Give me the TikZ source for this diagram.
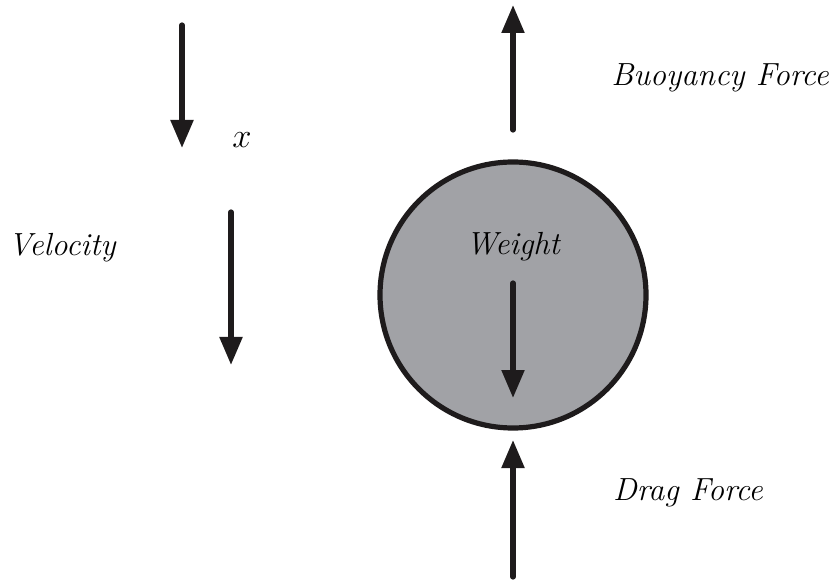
\documentclass[tikz,border=0pt]{standalone}
\usetikzlibrary{arrows.meta}
\definecolor{ballgray}{RGB}{161,162,166}
\definecolor{inkblack}{RGB}{30,27,28}

\begin{document}
\begin{tikzpicture}[
x=0.5pt, y=-0.5pt,
label/.style={font=\fontsize{16}{19}\selectfont\itshape, inner sep=0pt},
force/.style={-{Triangle[length=14pt, width=11pt]}, line width=2.6pt, color=inkblack, line cap=round},
ball/.style={circle, draw=inkblack, line width=2.6pt, fill=ballgray, minimum size=133pt, inner sep=0pt}
]
\useasboundingbox (0,0) rectangle (834,582);

\node[ball] (sphere) at (513,295) {};

% direction of x
\coordinate (xtop) at (182,25);
\coordinate (xbot) at (182,148);
\node[label] (xlab) at (242,140) {$x$};

% velocity
\coordinate (vtop) at (231,212);
\coordinate (vbot) at (231,365);
\node[label] (vlab) at (62,248) {Velocity};

% forces on the sphere
\coordinate (btop) at (513,5);
\coordinate (bbot) at (513,130);
\node[label] (blab) at (720,78) {Buoyancy Force};

\coordinate (wtop) at (513,283);
\coordinate (wbot) at (513,398);
\node[label] (wlab) at (513,247) {Weight};

\coordinate (dtop) at (513,440);
\coordinate (dbot) at (513,577);
\node[label] (dlab) at (688,493) {Drag Force};

\draw[force] (xtop) -- (xbot);
\draw[force] (vtop) -- (vbot);
\draw[force] (bbot) -- (btop);
\draw[force] (wtop) -- (wbot);
\draw[force] (dbot) -- (dtop);
\end{tikzpicture}
\end{document}
